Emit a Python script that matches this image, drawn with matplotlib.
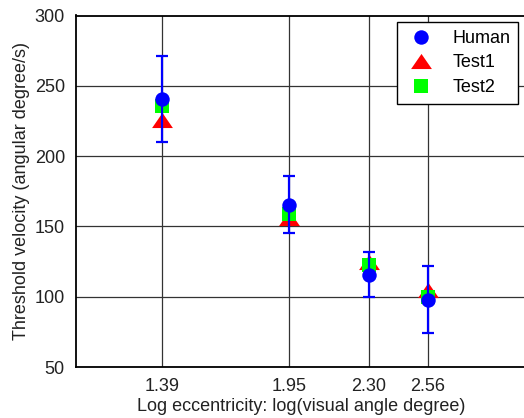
import matplotlib
matplotlib.use("Agg")
import matplotlib.pyplot as plt
from matplotlib.path import Path

plt.rcParams['font.family'] = ['Liberation Sans', 'DejaVu Sans']

# Log eccentricity positions and tick labels
ecc = [1.39, 1.95, 2.30, 2.56]
ecc_labels = ["1.39", "1.95", "2.30", "2.56"]

# Threshold velocities (angular degree/s)
human = [240.5, 165.5, 115.5, 98.0]
human_err = [30.5, 20.4, 16.0, 23.7]
test1 = [226.0, 156.0, 124.5, 104.5]
test2 = [235.5, 158.5, 122.5, 100.0]

yticks = [50, 100, 150, 200, 250, 300]

fig = plt.figure(figsize=(5.24, 4.18), dpi=100)
ax = fig.add_axes([76 / 524, 51 / 418, 451.3 / 524, 351.5 / 418])

# wide, flat triangle marker
tri = Path([(-1, -0.725), (1, -0.725), (0, 0.725), (-1, -0.725)],
           [Path.MOVETO, Path.LINETO, Path.LINETO, Path.CLOSEPOLY])

h1, = ax.plot(ecc, test1, linestyle='none', marker=tri, markersize=15,
              color='red', markeredgewidth=0, zorder=3, label='Test1')
h2, = ax.plot(ecc, test2, linestyle='none', marker='s', markersize=10,
              color=(0, 1, 0), markeredgewidth=0, zorder=4, label='Test2')
ax.errorbar(ecc, human, yerr=human_err, fmt='none', ecolor='blue',
            elinewidth=1.6, capsize=4.5, capthick=1.6, zorder=5)
h0, = ax.plot(ecc, human, linestyle='none', marker='o', markersize=10.4,
              color='blue', markeredgewidth=0, zorder=6, label='Human')

ax.set_xlim(1.01, 3.0)
ax.set_ylim(50, 300)
ax.set_xticks(ecc)
ax.set_xticklabels(ecc_labels)
ax.set_yticks(yticks)
ax.tick_params(length=0, labelsize=13, pad=8)
ax.grid(True, color='#333333', linewidth=0.9)
ax.set_axisbelow(True)
for s in ax.spines.values():
    s.set_linewidth(1.3)
    s.set_color('black')

ax.set_xlabel('Log eccentricity: log(visual angle degree)', fontsize=13, labelpad=2, color='#222222')
ax.set_ylabel('Threshold velocity (angular degree/s)', fontsize=13, labelpad=3, color='#222222')
for lab in ax.get_xticklabels() + ax.get_yticklabels():
    lab.set_color('#222222')

leg = ax.legend(handles=[h0, h1, h2], loc='upper right',
                bbox_to_anchor=(518.3 / 524, 1 - 22.3 / 418),
                bbox_transform=fig.transFigure, borderaxespad=0,
                fancybox=False, framealpha=1, edgecolor='black',
                fontsize=13, handlelength=1.8, handletextpad=0.85,
                labelspacing=0.42, borderpad=0.42)
leg.get_frame().set_linewidth(1.0)
leg.set_zorder(10)

fig.savefig('out.png', dpi=100)
